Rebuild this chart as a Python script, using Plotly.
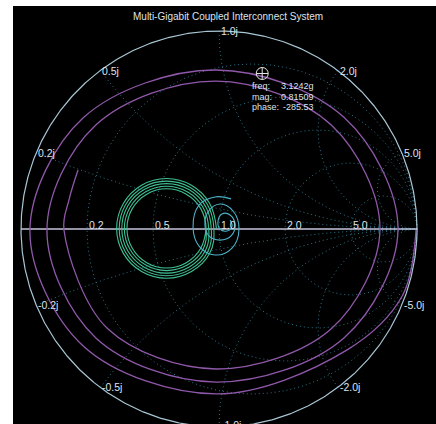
import numpy as np
import plotly.graph_objects as go

title_text = "Multi-Gigabit Coupled Interconnect System"

# Smith chart grid values and their labels
grid_resistance = [0.2, 0.5, 1.0, 2.0, 5.0]
grid_reactance = [0.2, 0.5, 1.0, 2.0, 5.0]
resistance_labels = ["0.2", "0.5", "1.0", "2.0", "5.0"]
reactance_labels_pos = ["0.2j", "0.5j", "1.0j", "2.0j", "5.0j"]
reactance_labels_neg = ["-0.2j", "-0.5j", "-1.0j", "-2.0j", "-5.0j"]

# Purple trace (transmission), reflection-plane coordinates
s21_re = [0.995, 0.926, 0.643, -0.015, -0.683, -0.955, -0.683, -0.015, 0.631,
          0.904, 0.631, -0.015, -0.622, -0.869, -0.622, -0.015, 0.567, 0.813, 0.567,
          -0.015, -0.562, -0.783, -0.758, -0.712]
s21_im = [-0.005, -0.337, -0.613, -0.833, -0.593, -0.010, 0.564, 0.803, 0.564,
          0.000, -0.550, -0.773, -0.550, -0.005, 0.525, 0.747, 0.525, 0.000, -0.504,
          -0.707, -0.504, -0.005, 0.146, 0.298]

# Green trace (multi-loop)
sg_re = [-0.013, -0.047, -0.139, -0.265, -0.391, -0.483, -0.517, -0.483, -0.391, -0.265, -0.139, -0.047,
         -0.026, -0.058, -0.145, -0.265, -0.385, -0.472, -0.504, -0.472, -0.385, -0.265, -0.145, -0.058,
         -0.039, -0.069, -0.152, -0.265, -0.378, -0.461, -0.491, -0.461, -0.378, -0.265, -0.152, -0.069,
         -0.052, -0.081, -0.158, -0.265, -0.372, -0.449, -0.478, -0.449, -0.372, -0.265, -0.158, -0.081,
         -0.065, -0.092, -0.165, -0.265, -0.365, -0.438, -0.465, -0.438, -0.365, -0.265, -0.165, -0.092, -0.065]
sg_im = [0.003, 0.129, 0.221, 0.255, 0.221, 0.129, 0.003, -0.123, -0.215, -0.249, -0.215, -0.123,
         0.003, 0.123, 0.210, 0.242, 0.210, 0.123, 0.003, -0.117, -0.204, -0.236, -0.204, -0.117,
         0.003, 0.116, 0.199, 0.229, 0.199, 0.116, 0.003, -0.110, -0.193, -0.223, -0.193, -0.110,
         0.003, 0.110, 0.187, 0.216, 0.187, 0.110, 0.003, -0.104, -0.181, -0.210, -0.181, -0.104,
         0.003, 0.103, 0.176, 0.203, 0.176, 0.103, 0.003, -0.097, -0.170, -0.197, -0.170, -0.097, 0.003]

# Cyan trace (near match, spiral around centre)
sc_re = [0.061, -0.020, -0.101, -0.131, -0.101, -0.020, 0.066, 0.101, 0.071, 0.005,
         -0.056, -0.071, -0.051, 0.005, 0.061, 0.081, 0.056, 0.015, -0.005, 0.005,
         0.040, 0.066, 0.056]
sc_im = [0.152, 0.162, 0.121, 0.010, -0.086, -0.131, -0.096, 0.000, 0.091, 0.126,
         0.086, 0.020, -0.035, -0.056, -0.035, 0.020, 0.071, 0.076, 0.040, 0.000,
         -0.010, 0.015, 0.045]

# Data marker
marker_freq = "3.1242g"
marker_mag = 0.81509
marker_phase = -285.53

# ---------------- geometry ----------------
W, H = 436, 424
ML, MT = 13, 6
PX = 198.0          # pixels per unit of reflection coefficient
CX, CY = 219.0, 229.0
xr = [(ML - CX) / PX, (W - CX) / PX]
yr = [(CY - H) / PX, (CY - MT) / PX]

FONT = "Liberation Sans, Arial, sans-serif"
TXT = "#dde3ec"
GRID = "#2c7488"

fig = go.Figure()

# grid: constant resistance circles and reactance arcs
gx, gy = [], []
th = np.linspace(0, 2 * np.pi, 721)
for r in grid_resistance:
    c = r / (1 + r)
    rad = 1 / (1 + r)
    gx += list(c + rad * np.cos(th)) + [None]
    gy += list(rad * np.sin(th)) + [None]
rr = np.concatenate([np.linspace(0, 2, 400), np.logspace(np.log10(2), 4, 500)])
for x in grid_reactance:
    for s in (1, -1):
        z = rr + 1j * s * x
        g = (z - 1) / (z + 1)
        gx += list(g.real) + [None]
        gy += list(g.imag) + [None]
fig.add_trace(go.Scatter(x=gx, y=gy, mode="lines",
                         line=dict(color=GRID, width=1, dash="1px,3px"),
                         hoverinfo="skip"))

# outer circle and real axis
fig.add_trace(go.Scatter(x=np.cos(th), y=np.sin(th), mode="lines",
                         line=dict(color="#a9c6d4", width=1.2), hoverinfo="skip"))
fig.add_trace(go.Scatter(x=[-1, 1], y=[0, 0], mode="lines",
                         line=dict(color="#c4c4dc", width=1.3), hoverinfo="skip"))

# data traces
fig.add_trace(go.Scatter(x=s21_re, y=s21_im, mode="lines",
                         line=dict(color="#9058aa", width=1.3, shape="spline", smoothing=1.0),
                         hoverinfo="skip"))
fig.add_trace(go.Scatter(x=sg_re, y=sg_im, mode="lines",
                         line=dict(color="#3fbf92", width=1.1, shape="spline", smoothing=1.2),
                         hoverinfo="skip"))
fig.add_trace(go.Scatter(x=sc_re, y=sc_im, mode="lines",
                         line=dict(color="#4cb3c9", width=1.1, shape="spline", smoothing=1.1),
                         hoverinfo="skip"))

# marker
ph = np.deg2rad(marker_phase)
mk_re = marker_mag * np.cos(ph)
mk_im = marker_mag * np.sin(ph)
fig.add_trace(go.Scatter(x=[mk_re], y=[mk_im], mode="markers",
                         marker=dict(symbol="circle-cross-open", size=12,
                                     color="#e6e6e6", line=dict(width=1, color="#e6e6e6")),
                         hoverinfo="skip"))

ann = []
# real-axis labels
for r, lab in zip(grid_resistance, resistance_labels):
    ann.append(dict(x=(r - 1) / (r + 1), y=0.02, text=lab, showarrow=False,
                    xanchor="left", yanchor="middle",
                    font=dict(family=FONT, size=10.5, color=TXT)))
# reactance labels at the rim
for x, lp, ln in zip(grid_reactance, reactance_labels_pos, reactance_labels_neg):
    for s, lab in ((1, lp), (-1, ln)):
        g = (1j * s * x - 1) / (1j * s * x + 1)
        gyy, ya = g.imag, "middle"
        if gyy < yr[0] + 0.05:
            gyy, ya = (CY - 417) / PX, "top"
        ann.append(dict(x=g.real, y=gyy, text=lab, showarrow=False,
                        xanchor="left", yanchor=ya,
                        font=dict(family=FONT, size=10.5, color=TXT)))
# title
ann.append(dict(x=(228 - CX) / PX, y=(CY - 16) / PX, text=title_text, showarrow=False,
                xanchor="center", yanchor="middle",
                font=dict(family=FONT, size=10, color=TXT)))
# marker readout
rows = [("freq:", marker_freq), ("mag:", f"{marker_mag:.5f}"), ("phase:", f"{marker_phase:.2f}")]
for i, (k, v) in enumerate(rows):
    yy = (CY - (86 + 10.5 * i)) / PX
    ann.append(dict(x=(250 - CX) / PX, y=yy, text=k, showarrow=False,
                    xanchor="left", yanchor="middle",
                    font=dict(family=FONT, size=9, color=TXT)))
    ann.append(dict(x=(316 - CX) / PX, y=yy, text=v, showarrow=False,
                    xanchor="right", yanchor="middle",
                    font=dict(family=FONT, size=9, color=TXT)))

fig.update_layout(
    width=W, height=H, autosize=False,
    margin=dict(l=ML, r=0, t=MT, b=0, pad=0),
    paper_bgcolor="white", plot_bgcolor="black",
    showlegend=False,
    xaxis=dict(range=xr, visible=False, fixedrange=True),
    yaxis=dict(range=yr, visible=False, fixedrange=True),
    annotations=ann,
)

fig.write_html("out.html")
